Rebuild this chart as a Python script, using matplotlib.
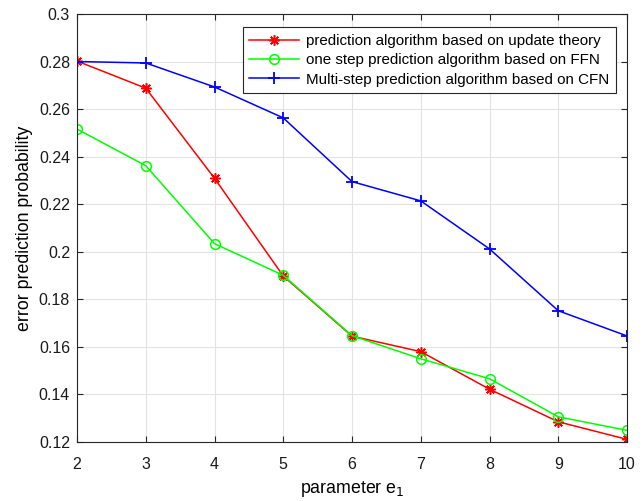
import numpy as np
import matplotlib
matplotlib.use('Agg')
import matplotlib.pyplot as plt

plt.rcParams['font.family'] = ['Liberation Sans', 'DejaVu Sans']

# parameter e1 values
e1 = [2, 3, 4, 5, 6, 7, 8, 9, 10]

# error prediction probability for each method
p_update = [0.2802, 0.2688, 0.2309, 0.1898, 0.1645, 0.1580, 0.1422, 0.1285, 0.1211]
p_ffn    = [0.2516, 0.2362, 0.2034, 0.1901, 0.1647, 0.1550, 0.1466, 0.1306, 0.1249]
p_cfn    = [0.2800, 0.2794, 0.2693, 0.2563, 0.2295, 0.2214, 0.2012, 0.1752, 0.1646]

labels = ['prediction algorithm based on update theory',
          'one step prediction algorithm based on FFN',
          'Multi-step prediction algorithm based on CFN']

yticks = [0.12, 0.14, 0.16, 0.18, 0.2, 0.22, 0.24, 0.26, 0.28, 0.3]
yticklabels = ['0.12', '0.14', '0.16', '0.18', '0.2', '0.22', '0.24', '0.26', '0.28', '0.3']

fig = plt.figure(figsize=(6.44, 5.01), dpi=100)
ax = fig.add_axes([0.1196, 0.1178, 0.854, 0.8543])

ax.plot(e1, p_update, color='#ff0000', lw=1.1, marker=(8, 2, 0), ms=7.5, mew=1.1, label=labels[0])
ax.plot(e1, p_ffn, color='#00ff00', lw=1.1, marker='o', ms=7, mfc='none', mew=1.1, label=labels[1])
ax.plot(e1, p_cfn, color='#0000ff', lw=1.1, marker='+', ms=9, mew=1.3, label=labels[2])

ax.set_xlim(2, 10)
ax.set_ylim(0.12, 0.3)
ax.set_xticks(e1)
ax.set_yticks(yticks)
ax.set_yticklabels(yticklabels)
ax.grid(True, color='#e3e3e3', lw=0.8)
ax.set_axisbelow(True)
ax.tick_params(direction='in', top=True, right=True, length=4, width=0.8, labelsize=11.5, colors='#262626')
ax.tick_params(labelcolor='#1a1a1a')
ax.tick_params(axis='x', pad=11)
ax.tick_params(axis='y', pad=5)
for s in ax.spines.values():
    s.set_linewidth(0.8)
    s.set_color('#262626')

ax.set_xlabel('parameter e$_1$', fontsize=12.8, labelpad=5)
ax.set_ylabel('error prediction probability', fontsize=12.8, labelpad=4)

leg = ax.legend(loc='upper right', bbox_to_anchor=(0.9805, 0.969), borderaxespad=0, fontsize=10.9,
                fancybox=False, framealpha=1, edgecolor='#262626',
                handlelength=3.3, borderpad=0.45, labelspacing=0.35, handletextpad=0.45)
leg.get_frame().set_linewidth(0.8)

fig.savefig('out.png', dpi=100)
